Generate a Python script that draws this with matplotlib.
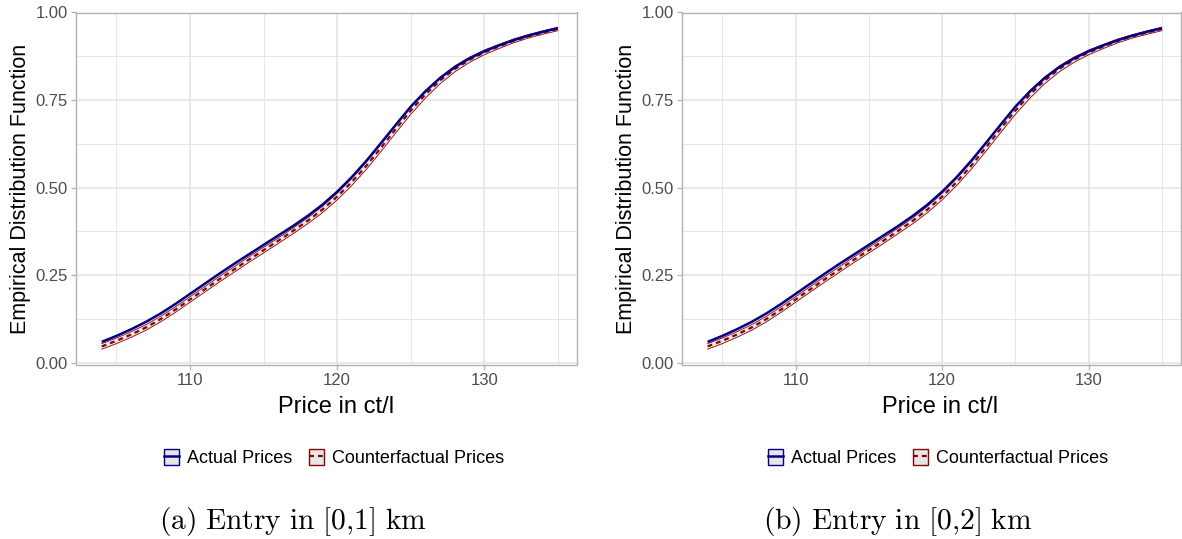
import matplotlib
matplotlib.use("Agg")
import matplotlib.pyplot as plt
from matplotlib.patches import Patch
from matplotlib.lines import Line2D
import numpy as np

plt.rcParams['font.family'] = ['Liberation Sans', 'DejaVu Sans']
plt.rcParams['mathtext.fontset'] = 'cm'

# ---- data ----
price = [104, 105, 106, 107, 108, 109, 110, 111, 112, 113, 114, 115, 116, 117, 118, 119,
         120, 121, 122, 123, 124, 125, 126, 127, 128, 129, 130, 131, 132, 133, 134, 135]

actual_a = [0.059, 0.076, 0.095, 0.116, 0.140, 0.167, 0.196, 0.225, 0.254, 0.282, 0.309,
            0.336, 0.363, 0.390, 0.419, 0.451, 0.488, 0.530, 0.577, 0.628, 0.680, 0.731,
            0.775, 0.813, 0.844, 0.869, 0.889, 0.906, 0.921, 0.934, 0.945, 0.955]
counter_a = [0.046, 0.062, 0.080, 0.100, 0.124, 0.151, 0.180, 0.209, 0.238, 0.266, 0.294,
             0.321, 0.348, 0.376, 0.405, 0.437, 0.474, 0.516, 0.563, 0.615, 0.668, 0.720,
             0.766, 0.806, 0.839, 0.865, 0.886, 0.903, 0.919, 0.932, 0.943, 0.953]

actual_b = [0.059, 0.076, 0.095, 0.116, 0.140, 0.167, 0.196, 0.225, 0.254, 0.282, 0.309,
            0.336, 0.363, 0.390, 0.419, 0.451, 0.488, 0.530, 0.577, 0.628, 0.680, 0.731,
            0.775, 0.813, 0.844, 0.869, 0.889, 0.906, 0.921, 0.934, 0.945, 0.955]
counter_b = [0.046, 0.062, 0.080, 0.100, 0.124, 0.151, 0.180, 0.209, 0.238, 0.266, 0.294,
             0.321, 0.348, 0.376, 0.405, 0.437, 0.474, 0.516, 0.563, 0.615, 0.668, 0.720,
             0.766, 0.806, 0.839, 0.865, 0.886, 0.903, 0.919, 0.932, 0.943, 0.953]

# half-widths of the confidence bands
actual_hw = [0.0015] * 32
counter_hw = [0.008, 0.008, 0.008, 0.008, 0.008, 0.008, 0.008, 0.008, 0.008, 0.008, 0.008,
              0.008, 0.008, 0.008, 0.0085, 0.009, 0.0095, 0.010, 0.0105, 0.011, 0.011, 0.011,
              0.0105, 0.0095, 0.0085, 0.0075, 0.0068, 0.006, 0.0055, 0.005, 0.005, 0.005]

x_major = [110, 120, 130]
x_minor = [105, 115, 125, 135]
y_major = [0.00, 0.25, 0.50, 0.75, 1.00]
y_minor = [0.125, 0.375, 0.625, 0.875]
y_ticklabels = ["0.00", "0.25", "0.50", "0.75", "1.00"]

captions = ["(a) Entry in [0,1] km", "(b) Entry in [0,2] km"]
series_names = ["Actual Prices", "Counterfactual Prices"]

BLUE = "#00008B"
RED = "#8B0000"
FILL = "#e6e6e6"
GRID = "#e3e3e3"
BORDER = "#b3b3b3"
TICKTXT = "#4d4d4d"

W, H = 1182, 539
fig = plt.figure(figsize=(W / 100, H / 100), dpi=100)

panels = [
    (76, 501, actual_a, counter_a),
    (682, 499, actual_b, counter_b),
]
top_px, bot_px = 12.5, 364.5

for i, (left_px, width_px, act, cf) in enumerate(panels):
    ax = fig.add_axes([left_px / W, 1 - bot_px / H, width_px / W, (bot_px - top_px) / H])
    x = np.array(price)
    a = np.array(act)
    c = np.array(cf)
    ahw = np.array(actual_hw)
    chw = np.array(counter_hw)

    # grid
    for v in x_minor:
        ax.axvline(v, color=GRID, lw=0.6, zorder=0)
    for v in y_minor:
        ax.axhline(v, color=GRID, lw=0.6, zorder=0)
    for v in x_major:
        ax.axvline(v, color=GRID, lw=1.1, zorder=0)
    for v in y_major:
        ax.axhline(v, color=GRID, lw=1.1, zorder=0)

    # counterfactual band + line
    ax.fill_between(x, c - chw, c + chw, facecolor=FILL, alpha=0.85, edgecolor="none", zorder=2)
    ax.plot(x, c - chw, color=RED, lw=0.6, zorder=3)
    ax.plot(x, c + chw, color=RED, lw=0.6, zorder=3)
    ax.plot(x, c, color=RED, lw=1.6, dashes=(2.2, 1.8), zorder=4)

    # actual band + line
    ax.fill_between(x, a - ahw, a + ahw, facecolor=FILL, alpha=0.85, edgecolor="none", zorder=5)
    ax.plot(x, a, color=BLUE, lw=1.8, zorder=6, solid_capstyle="butt")

    ax.set_xlim(102.25, 136.3)
    ax.set_ylim(-0.0057, 1.0)
    ax.set_xticks(x_major)
    ax.set_xticklabels([str(v) for v in x_major])
    ax.set_yticks(y_major)
    ax.set_yticklabels(y_ticklabels)
    ax.tick_params(axis="both", colors=BORDER, labelcolor=TICKTXT, labelsize=12,
                   length=3.5, width=0.9, pad=2.5)
    for s in ax.spines.values():
        s.set_color(BORDER)
        s.set_linewidth(1.0)
    ax.set_facecolor("white")
    ax.set_xlabel("Price in ct/l", fontsize=17, color="black")
    label_cx = 336 if i == 0 else 940
    ax.xaxis.set_label_coords((label_cx - left_px) / width_px, -(407 - bot_px) / (bot_px - top_px))
    ax.xaxis.label.set_va("center")
    ax.set_ylabel("Empirical Distribution Function", fontsize=15.5, color="black", labelpad=3)

    handles = [
        (Patch(facecolor=FILL, edgecolor=BLUE, linewidth=1.0), Line2D([], [], color=BLUE, lw=1.8)),
        (Patch(facecolor=FILL, edgecolor=RED, linewidth=1.0), Line2D([], [], color=RED, lw=1.6, dashes=(2.2, 1.8))),
    ]
    cx = (334 if i == 0 else 938) / W
    fig.legend(handles, series_names, loc="center", bbox_to_anchor=(cx, 1 - 458 / H),
               ncol=2, frameon=False, fontsize=13, handlelength=0.85, handleheight=1.0,
               handletextpad=0.45, columnspacing=0.9)

    cap = captions[i]
    mt = r"$\mathrm{" + cap.replace(" ", r"\ ").replace(",", "{,}") + "}$"
    fig.text((293 if i == 0 else 898) / W, 1 - 521 / H, mt, ha="center", va="center",
             fontsize=21.3, color="black")

fig.savefig("out.png", dpi=100, facecolor="white")
